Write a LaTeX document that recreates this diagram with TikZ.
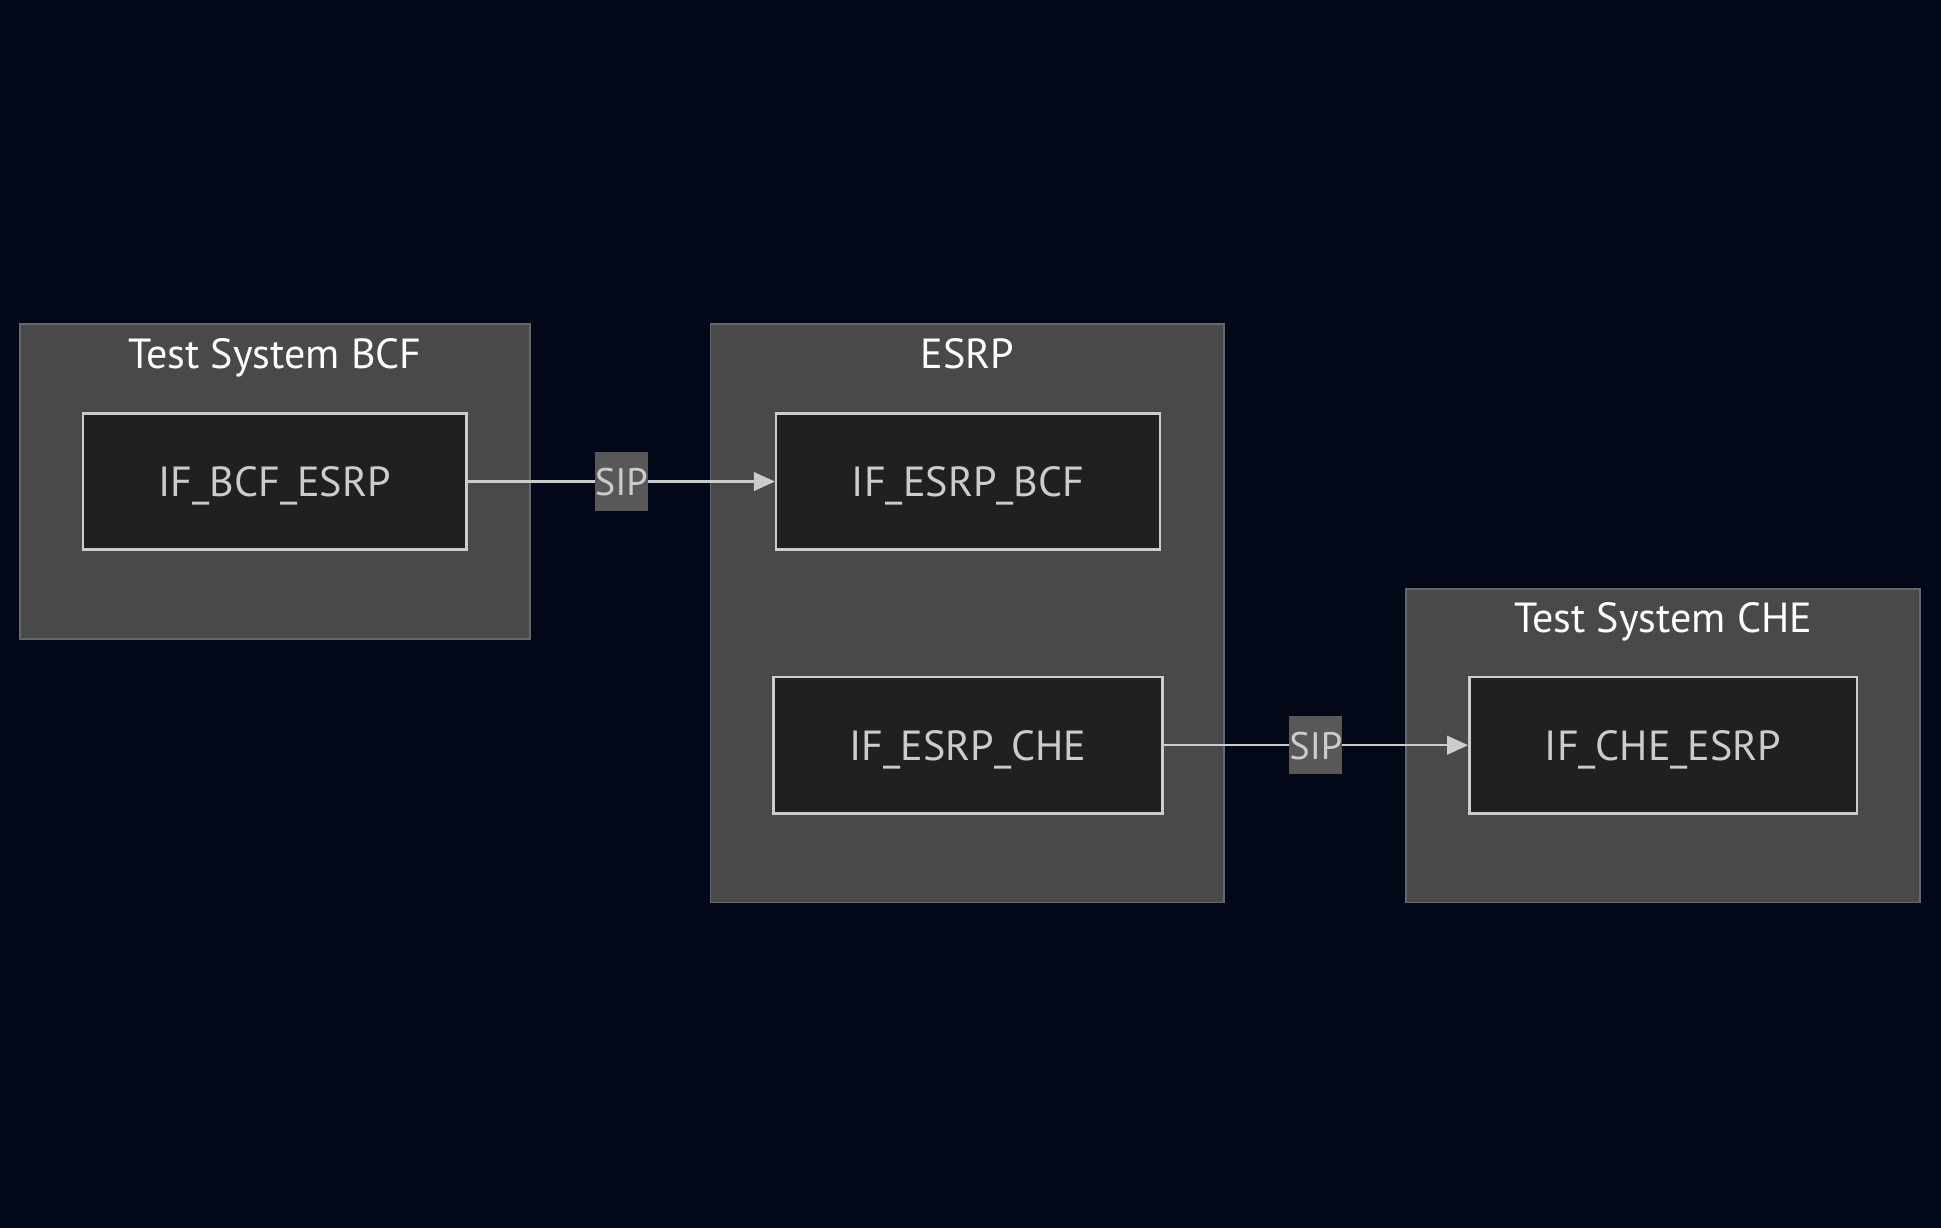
\documentclass[tikz,border=0pt]{standalone}
\usepackage{fontspec}
\setmainfont{PT Sans}
\usetikzlibrary{arrows.meta}

\definecolor{pagebg}{RGB}{2,8,24}
\definecolor{clusterfill}{RGB}{72,73,72}
\definecolor{clusterline}{RGB}{100,104,110}
\definecolor{ifacefill}{RGB}{31,32,32}
\definecolor{ifaceline}{RGB}{204,204,204}
\definecolor{labelfill}{RGB}{88,88,88}

\begin{document}
\begin{tikzpicture}[%
        x = 1pt,
        y = -1pt,
        > = {Triangle[length = 17pt, width = 15pt]},
        cluster/.style = {%
            draw = clusterline,
            fill = clusterfill,
            line width = 1.4pt,
            inner sep = 0pt
        },
        clustertitle/.style = {%
            text = white,
            font = \fontsize{34}{40}\selectfont,
            text height = 24pt,
            text depth = 0pt,
            inner sep = 0pt
        },
        iface/.style = {%
            draw = ifaceline,
            fill = ifacefill,
            line width = 2pt,
            text = ifaceline,
            font = \fontsize{34}{40}\selectfont,
            text height = 24pt,
            text depth = 0pt,
            minimum height = 110pt,
            inner sep = 0pt
        },
        link/.style = {%
            draw = ifaceline,
            line width = 2pt,
            ->
        },
        linklabel/.style = {%
            fill = labelfill,
            text = ifaceline,
            font = \fontsize{31}{36}\selectfont,
            text height = 23pt,
            text depth = 0pt,
            minimum width = 42pt,
            minimum height = 47pt,
            inner sep = 0pt
        }
    ]

        % Background and bounding box.
        \fill[pagebg] (0, 0) rectangle (1568, 992);
        \useasboundingbox (0, 0) rectangle (1568, 992);

        % Subgraphs:
        \node[cluster, minimum width = 412pt, minimum height = 254pt] (bcf)  at (222.0, 389.0) {};
        \node[cluster, minimum width = 415pt, minimum height = 467pt] (esrp) at (781.5, 495.5) {};
        \node[cluster, minimum width = 415pt, minimum height = 253pt] (che)  at (1343.5, 602.5) {};

        \node[clustertitle] (bcftitle)  at ([yshift = -24pt] bcf.north)  {Test System BCF};
        \node[clustertitle] (esrptitle) at ([yshift = -24pt] esrp.north) {ESRP};
        \node[clustertitle] (chetitle)  at ([yshift = -24pt] che.north)  {Test System CHE};

        % Interfaces:
        \node[iface, minimum width = 310pt] (ifbcfesrp) at (222.0, 389.0)  {IF\_BCF\_ESRP};
        \node[iface, minimum width = 310pt] (ifesrpbcf) at (782.0, 389.0)  {IF\_ESRP\_BCF};
        \node[iface, minimum width = 314pt] (ifesrpche) at (782.0, 602.0)  {IF\_ESRP\_CHE};
        \node[iface, minimum width = 313pt] (ifcheesrp) at (1343.5, 602.0) {IF\_CHE\_ESRP};

        % SIP links between the systems.
        \draw[link] (ifbcfesrp) to node[linklabel] (sipa) {SIP} (ifesrpbcf);
        \draw[link] (ifesrpche) to node[linklabel] (sipb) {SIP} (ifcheesrp);
    \end{tikzpicture}
\end{document}
